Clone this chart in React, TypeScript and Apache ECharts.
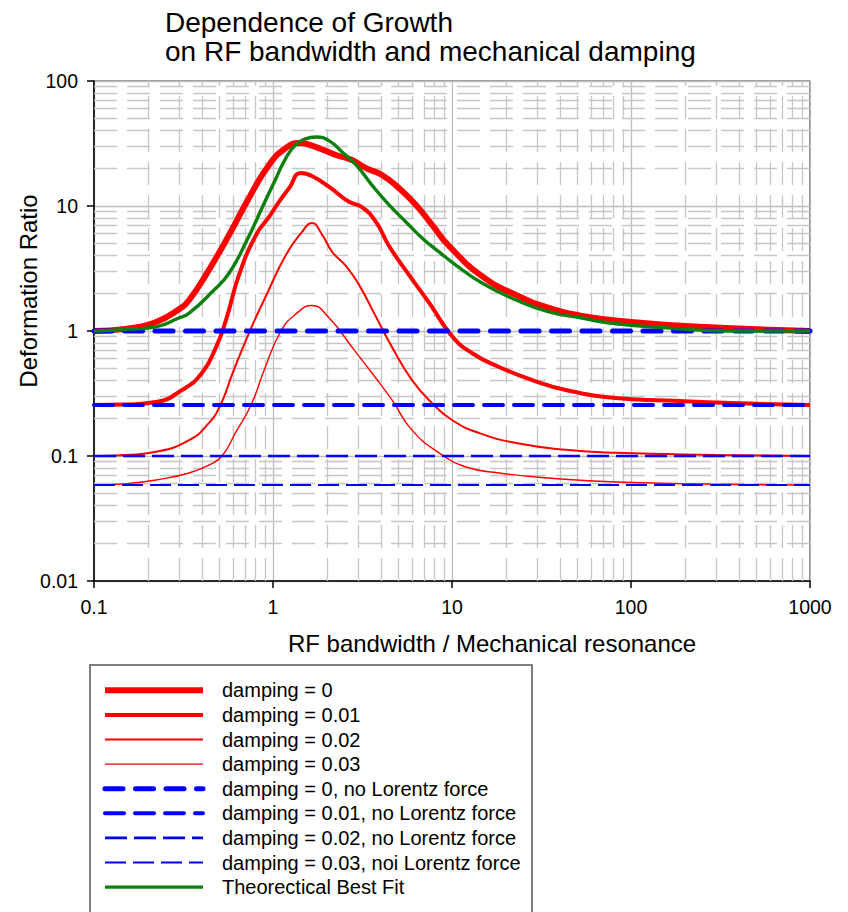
import React, { useEffect, useRef } from 'react';
import * as echarts from 'echarts';

const FONT = '"Liberation Sans", Arial, sans-serif';

const titleText = 'Dependence of Growth\non RF bandwidth and mechanical damping';
const xAxisTitle = 'RF bandwidth / Mechanical resonance';
const yAxisTitle = 'Deformation Ratio';

const xTickLabels = ['0.1', '1', '10', '100', '1000'];
const yTickLabels = ['0.01', '0.1', '1', '10', '100'];

const minorX = [0.2, 0.3, 0.4, 0.5, 0.6, 0.7, 0.8, 0.9, 2, 3, 4, 5, 6, 7, 8, 9, 20, 30, 40, 50, 60, 70, 80, 90, 200, 300, 400, 500, 600, 700, 800, 900];
const minorY = [0.02, 0.03, 0.04, 0.05, 0.06, 0.07, 0.08, 0.09, 0.2, 0.3, 0.4, 0.5, 0.6, 0.7, 0.8, 0.9, 2, 3, 4, 5, 6, 7, 8, 9, 20, 30, 40, 50, 60, 70, 80, 90];

const seriesNames = [
  'damping = 0',
  'damping = 0.01',
  'damping = 0.02',
  'damping = 0.03',
  'damping = 0, no Lorentz force',
  'damping = 0.01, no Lorentz force',
  'damping = 0.02, no Lorentz force',
  'damping = 0.03, noi Lorentz force',
  'Theorectical Best Fit',
];

const damping0: [number, number][] = [
  [0.1, 1.0], [0.15, 1.04], [0.222, 1.18], [0.3, 1.5], [0.34, 1.77], [0.422, 2.81], [0.568, 5.86],
  [0.734, 11.6], [0.95, 21.3], [1.18, 29.1], [1.4, 31.9], [1.74, 29.6], [2.25, 25.6], [2.76, 23.3],
  [3.31, 20.1], [4.06, 17.7], [5.05, 13.9], [6.29, 10.2], [7.74, 7.05], [9.62, 4.8], [14.7, 2.75],
  [22.8, 1.94], [34.8, 1.53], [53.2, 1.32], [100, 1.18], [240, 1.08], [1000, 1.0],
];

const damping001: [number, number][] = [
  [0.1, 0.256], [0.15, 0.258], [0.222, 0.27], [0.31, 0.337], [0.401, 0.461], [0.48, 0.74],
  [0.546, 1.22], [0.646, 2.81], [0.804, 5.86], [0.95, 8.17], [1.08, 10.8], [1.23, 13.9],
  [1.43, 18.4], [1.65, 17.4], [2.06, 14.2], [2.66, 10.8], [3.14, 9.8], [3.76, 7.45], [4.45, 4.79],
  [5.75, 2.81], [7.54, 1.64], [10, 0.91], [12.9, 0.667], [18.3, 0.515], [28, 0.405], [43.3, 0.337],
  [82.5, 0.291], [157, 0.278], [366, 0.265], [1000, 0.256],
];

const damping002: [number, number][] = [
  [0.1, 0.1], [0.15, 0.102], [0.222, 0.108], [0.34, 0.134], [0.439, 0.184], [0.512, 0.261],
  [0.59, 0.445], [0.734, 0.963], [0.914, 1.91], [1.18, 4.06], [1.45, 6.19], [1.65, 7.31],
  [1.88, 5.9], [2.14, 4.3], [2.56, 3.3], [3.02, 2.35], [3.67, 1.39], [4.62, 0.745], [5.98, 0.405],
  [7.73, 0.265], [10, 0.194], [14.1, 0.153], [22.8, 0.127], [43.3, 0.112], [82.5, 0.106],
  [300, 0.102], [1000, 0.1],
];

const damping003: [number, number][] = [
  [0.1, 0.0586], [0.15, 0.06], [0.222, 0.0643], [0.34, 0.0731], [0.439, 0.0847], [0.519, 0.1],
  [0.621, 0.156], [0.754, 0.256], [0.902, 0.506], [1.108, 1.0], [1.344, 1.37], [1.65, 1.6],
  [2.06, 1.27], [2.76, 0.745], [3.57, 0.461], [4.62, 0.281], [5.98, 0.161], [8.46, 0.106],
  [12, 0.0817], [18.3, 0.0731], [34.8, 0.0667], [82.5, 0.0619], [300, 0.0595], [1000, 0.0586],
];

const noLorentzLevels = [1.0, 0.256, 0.1, 0.0586];
const xRange = [0.1, 1000];

const bestFit: [number, number][] = [
  [0.1, 1.0], [0.15, 1.03], [0.222, 1.08], [0.298, 1.27], [0.34, 1.39], [0.456, 2.05], [0.568, 2.9],
  [0.707, 5.15], [0.868, 9.64], [1.04, 16.7], [1.18, 24.2], [1.34, 31], [1.5, 34.2], [1.74, 35.6],
  [2.06, 33.2], [2.43, 27], [2.91, 21.3], [3.57, 14.7], [4.45, 10.2], [5.53, 7.45], [6.8, 5.55],
  [8.46, 4.29], [10.5, 3.37], [14.7, 2.42], [22.8, 1.77], [34.8, 1.42], [53.2, 1.27], [75.4, 1.16],
  [157, 1.06], [366, 1.0], [1000, 1.0],
];

export default function App() {
  const ref = useRef<HTMLDivElement>(null);

  useEffect(() => {
    if (!ref.current) return;
    const chart = echarts.init(ref.current, null, { renderer: 'svg' });

    const redWidths = [6, 4, 2, 1.4];
    const redData = [damping0, damping001, damping002, damping003];
    const blueStyles = [
      { width: 5, type: [18, 12.5], cap: 'round' },
      { width: 4, type: [19, 11], cap: 'round' },
      { width: 2.6, type: [22, 7], cap: 'butt' },
      { width: 2, type: [21, 7], cap: 'butt' },
    ];

    const series: any[] = [];
    redData.forEach((d, i) => {
      series.push({
        name: seriesNames[i],
        type: 'line',
        data: d,
        smooth: 0.5,
        symbol: 'none',
        z: 2,
        lineStyle: { color: '#ff0000', width: redWidths[i] },
        itemStyle: { color: '#ff0000', opacity: 0 },
      });
    });
    noLorentzLevels.forEach((lvl, i) => {
      series.push({
        name: seriesNames[4 + i],
        type: 'line',
        data: [[xRange[0], lvl], [xRange[1], lvl]],
        symbol: 'none',
        z: 3,
        lineStyle: { color: '#0000ff', width: blueStyles[i].width, type: blueStyles[i].type, cap: blueStyles[i].cap },
        itemStyle: { color: '#0000ff', opacity: 0 },
      });
    });
    series.push({
      name: seriesNames[8],
      type: 'line',
      data: bestFit,
      smooth: 0.5,
      symbol: 'none',
      z: 4,
      lineStyle: { color: '#0b800f', width: 3.4 },
      itemStyle: { color: '#0b800f', opacity: 0 },
    });
    series.push({
      name: '_grid',
      type: 'line',
      data: [[1, 1]],
      symbol: 'none',
      z: 1,
      lineStyle: { width: 0, opacity: 0 },
      markLine: {
        silent: true,
        z: 1,
        symbol: ['none', 'none'],
        label: { show: false },
        emphasis: { disabled: true },
        lineStyle: { color: '#c6c6c6', width: 1.3, type: [23, 10] },
        data: [
          ...minorX.map((v) => ({ xAxis: v })),
          ...minorY.map((v) => ({ yAxis: v })),
        ],
      },
    });

    chart.setOption({
      animation: false,
      backgroundColor: '#ffffff',
      title: {
        text: titleText,
        left: 160,
        top: 3,
        textStyle: { fontFamily: FONT, fontSize: 28, fontWeight: 'normal', color: '#000', lineHeight: 29 },
      },
      grid: {
        left: 94,
        right: 38,
        top: 81,
        bottom: 331,
        show: true,
        borderColor: '#333',
        borderWidth: 1.2,
        backgroundColor: 'transparent',
      },
      legend: {
        data: seriesNames,
        orient: 'vertical',
        left: 102,
        top: 678,
        padding: 0,
        itemWidth: 98,
        itemHeight: 14,
        itemGap: 0,
        selectedMode: false,
        itemStyle: { opacity: 0 },
        lineStyle: { width: 'inherit', type: 'inherit', cap: 'inherit' },
        textStyle: { fontFamily: FONT, fontSize: 20, color: '#000', lineHeight: 24.6, padding: [0, 0, 0, 14] },
      },
      xAxis: {
        type: 'log',
        logBase: 10,
        min: 0.1,
        max: 1000,
        interval: 1,
        axisLine: { show: true, lineStyle: { color: '#000', width: 1.5 } },
        axisTick: { show: true, inside: false, length: 7, lineStyle: { color: '#000', width: 1.5 } },
        axisLabel: {
          margin: 16,
          fontFamily: FONT,
          fontSize: 19.5,
          color: '#000',
          formatter: (v: number) => xTickLabels[Math.round(Math.log10(v)) + 1] ?? '',
        },
        splitLine: { show: true, lineStyle: { color: '#bdbdbd', width: 1.3 } },
        minorTick: { show: false },
      },
      yAxis: {
        type: 'log',
        logBase: 10,
        min: 0.01,
        max: 100,
        interval: 1,
        axisLine: { show: true, lineStyle: { color: '#000', width: 1.5 } },
        axisTick: { show: true, inside: false, length: 7, lineStyle: { color: '#000', width: 1.5 } },
        axisLabel: {
          margin: 16,
          fontFamily: FONT,
          fontSize: 19.5,
          color: '#000',
          formatter: (v: number) => yTickLabels[Math.round(Math.log10(v)) + 2] ?? '',
        },
        splitLine: { show: true, lineStyle: { color: '#bdbdbd', width: 1.3 } },
      },
      graphic: [
        {
          type: 'text',
          x: 492,
          y: 643,
          style: { text: xAxisTitle, fontFamily: FONT, fontSize: 24, fill: '#000', textAlign: 'center', textVerticalAlign: 'middle' },
        },
        {
          type: 'text',
          x: 28,
          y: 291,
          rotation: Math.PI / 2,
          style: { text: yAxisTitle, fontFamily: FONT, fontSize: 24, fill: '#000', textAlign: 'center', textVerticalAlign: 'middle' },
        },
        {
          type: 'rect',
          shape: { x: 90, y: 665, width: 442, height: 270 },
          style: { fill: 'none', stroke: '#555', lineWidth: 1.5 },
          z: -1,
        },
      ],
      series,
    });

    return () => chart.dispose();
  }, []);

  return <div ref={ref} style={{ position: 'absolute', left: 0, top: 0, width: 848, height: 912 }} />;
}
